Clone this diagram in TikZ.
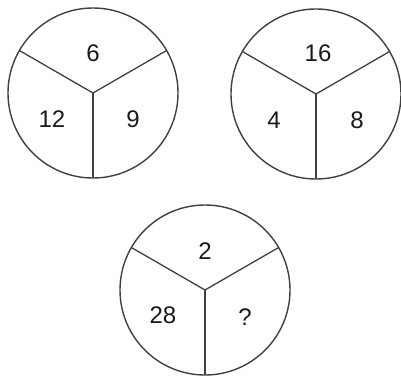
\documentclass[tikz,border=0pt]{standalone}
\usepackage{fontspec}
\setmainfont{Liberation Sans}
\begin{document}
\begin{tikzpicture}[x=1pt,y=-1pt,
  ring/.style={draw=black!75,line width=1.4pt},
  spoke/.style={draw=black!75,line width=1.3pt},
  num/.style={font=\fontsize{24}{24}\selectfont,text=black!90,inner sep=0pt}]
\useasboundingbox (0,0) rectangle (401,375);
% circle 1
\coordinate (c1) at (93,93);
\draw[ring] (c1) circle[radius=85];
\draw[spoke] (c1) -- +(210:85);
\draw[spoke] (c1) -- +(330:85);
\draw[spoke] (c1) -- +(90:85);
\node[num] (t1) at (93,53) {6};
\node[num] (l1) at (52,119) {12};
\node[num] (r1) at (133,119) {9};
% circle 2
\coordinate (c2) at (316,94);
\draw[ring] (c2) circle[radius=85];
\draw[spoke] (c2) -- +(210:85);
\draw[spoke] (c2) -- +(330:85);
\draw[spoke] (c2) -- +(90:85);
\node[num] (t2) at (318,53) {16};
\node[num] (l2) at (274,120) {4};
\node[num] (r2) at (357,120) {8};
% circle 3
\coordinate (c3) at (205,290);
\draw[ring] (c3) circle[radius=85];
\draw[spoke] (c3) -- +(210:85);
\draw[spoke] (c3) -- +(330:85);
\draw[spoke] (c3) -- +(90:85);
\node[num] (t3) at (205,251) {2};
\node[num] (l3) at (163,315) {28};
\node[num] (r3) at (245,317) {?};
\end{tikzpicture}
\end{document}
